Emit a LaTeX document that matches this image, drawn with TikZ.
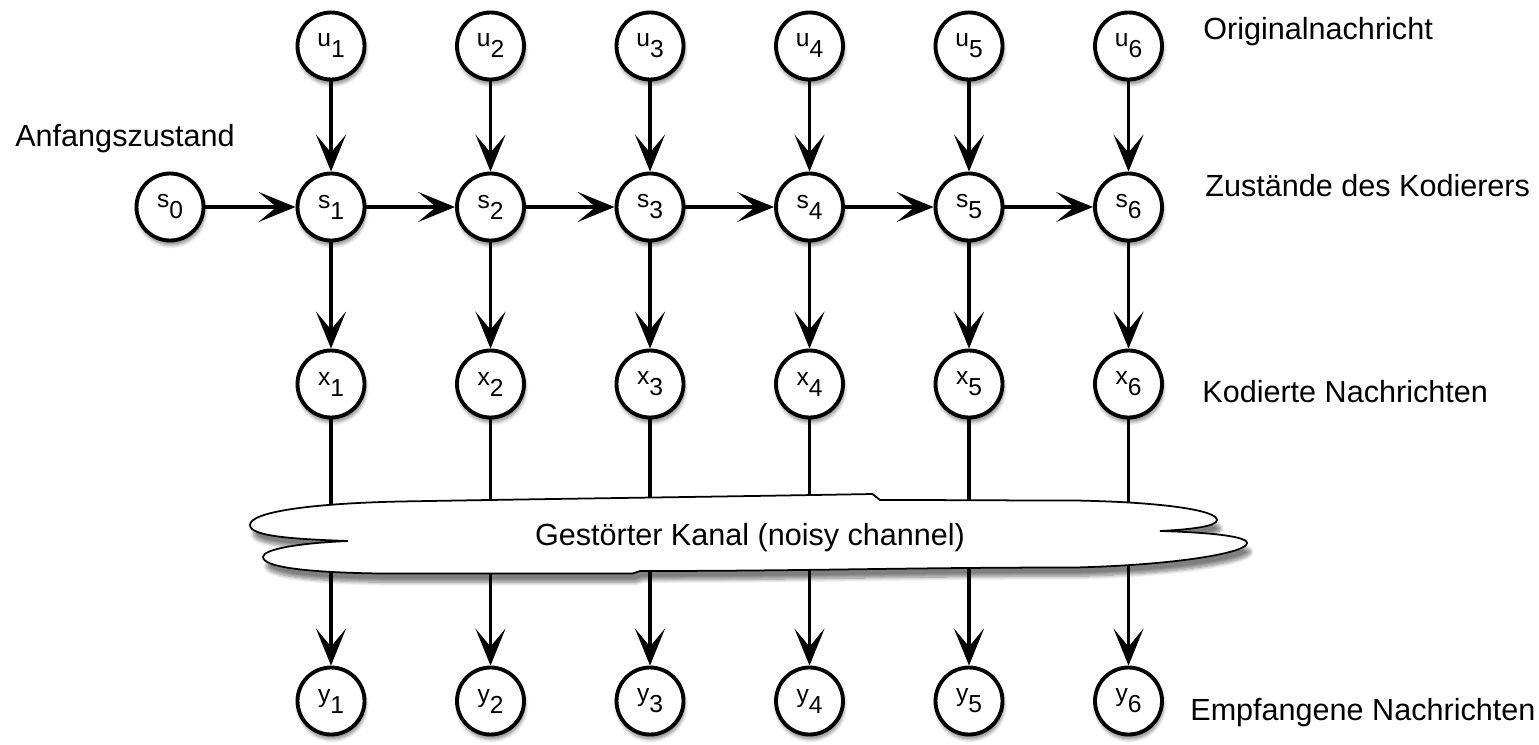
\documentclass[tikz,border=0pt]{standalone}
\usepackage{fontspec}
\setmainfont{Liberation Sans}
\usetikzlibrary{positioning,calc,arrows.meta,shadows.blur}

\newcommand{\sym}[2]{#1\raisebox{-0.22cm}{#2}}

\tikzstyle{line} = [draw, line width=2.2pt, -{Stealth[length=0.74cm,width=0.6cm,inset=0.36cm]}]
\tikzstyle{round} = [circle, draw, line width=2.2pt, fill=white, minimum size=1.34cm, inner sep=0pt, font=\fontsize{14}{16}\selectfont, blur shadow={shadow xshift=0.6pt, shadow yshift=-2.5pt, shadow blur steps=6, shadow opacity=50}]
\tikzstyle{rowtext} = [anchor=base west, inner sep=0pt, font=\fontsize{17.4}{20}\selectfont]
\tikzstyle{cloud_path} = [draw, fill=white, line width=1pt, blur shadow={shadow xshift=2pt, shadow yshift=-5pt, shadow blur steps=8, shadow opacity=50}]

\begin{document}
\begin{tikzpicture}[on grid]

\useasboundingbox (0,0) rectangle (30.78,-14.9);

\node [round] (u1) at (6.62,-0.92) {\sym{u}{1}};
\node [round, right=3.19cm of u1] (u2) {\sym{u}{2}};
\node [round, right=3.19cm of u2] (u3) {\sym{u}{3}};
\node [round, right=3.19cm of u3] (u4) {\sym{u}{4}};
\node [round, right=3.19cm of u4] (u5) {\sym{u}{5}};
\node [round, right=3.19cm of u5] (u6) {\sym{u}{6}};

\node [round, below=3.22cm of u1] (s1) {\sym{s}{1}};
\node [round, below=3.22cm of u2] (s2) {\sym{s}{2}};
\node [round, below=3.22cm of u3] (s3) {\sym{s}{3}};
\node [round, below=3.22cm of u4] (s4) {\sym{s}{4}};
\node [round, below=3.22cm of u5] (s5) {\sym{s}{5}};
\node [round, below=3.22cm of u6] (s6) {\sym{s}{6}};
\node [round, left=3.22cm of s1] (s0) {\sym{s}{0}};

\node [round, below=3.54cm of s1] (x1) {\sym{x}{1}};
\node [round, below=3.54cm of s2] (x2) {\sym{x}{2}};
\node [round, below=3.54cm of s3] (x3) {\sym{x}{3}};
\node [round, below=3.54cm of s4] (x4) {\sym{x}{4}};
\node [round, below=3.54cm of s5] (x5) {\sym{x}{5}};
\node [round, below=3.54cm of s6] (x6) {\sym{x}{6}};

\node [round, below=6.34cm of x1] (y1) {\sym{y}{1}};
\node [round, below=6.34cm of x2] (y2) {\sym{y}{2}};
\node [round, below=6.34cm of x3] (y3) {\sym{y}{3}};
\node [round, below=6.34cm of x4] (y4) {\sym{y}{4}};
\node [round, below=6.34cm of x5] (y5) {\sym{y}{5}};
\node [round, below=6.34cm of x6] (y6) {\sym{y}{6}};

\node [rowtext] (original) at (24.06,-0.80) {Originalnachricht};
\node [rowtext] (anfang) at (0.30,-2.94) {Anfangszustand};
\node [rowtext] (zustaende) at (24.10,-3.94) {Zustände des Kodierers};
\node [rowtext] (kodiert) at (24.04,-8.04) {Kodierte Nachrichten};
\node [rowtext] (empfangen) at (23.80,-14.40) {Empfangene Nachrichten};

\path [line] (u1) -- (s1);
\path [line] (u2) -- (s2);
\path [line] (u3) -- (s3);
\path [line] (u4) -- (s4);
\path [line] (u5) -- (s5);
\path [line] (u6) -- (s6);

\path [line] (s0) -- (s1);
\path [line] (s1) -- (s2);
\path [line] (s2) -- (s3);
\path [line] (s3) -- (s4);
\path [line] (s4) -- (s5);
\path [line] (s5) -- (s6);

\path [line] (s1) -- (x1);
\path [line] (s2) -- (x2);
\path [line] (s3) -- (x3);
\path [line] (s4) -- (x4);
\path [line] (s5) -- (x5);
\path [line] (s6) -- (x6);

\path [line] (x1) -- (y1);
\path [line] (x2) -- (y2);
\path [line] (x3) -- (y3);
\path [line] (x4) -- (y4);
\path [line] (x5) -- (y5);
\path [line] (x6) -- (y6);

% noisy channel cloud over the x-y lines
\path [cloud_path] (6.96,-10.82)
  .. controls (5.8,-10.78) and (5.0,-10.72) .. (5.0,-10.50)
  .. controls (5.0,-10.24) and (6.2,-10.07) .. (8.0,-10.03)
  to[out=1,in=181] (17.45,-9.88)
  -- (17.6,-10.0)
  to[out=0,in=180] (21.5,-10.01)
  .. controls (23.2,-10.04) and (24.34,-10.2) .. (24.34,-10.40)
  .. controls (24.34,-10.53) and (23.8,-10.59) .. (23.2,-10.62)
  .. controls (23.9,-10.64) and (24.94,-10.70) .. (24.94,-10.86)
  .. controls (24.94,-11.06) and (23.5,-11.30) .. (21.5,-11.35)
  to[out=180,in=0] (12.8,-11.42)
  -- (12.65,-11.47)
  to[out=180,in=0] (7.6,-11.47)
  .. controls (6.2,-11.45) and (5.26,-11.35) .. (5.26,-11.14)
  .. controls (5.26,-10.98) and (6.0,-10.86) .. (6.96,-10.82) -- cycle;
\node [anchor=base, inner sep=0pt, font=\fontsize{17.4}{20}\selectfont] (kanal) at (15.0,-10.9) {Gestörter Kanal (noisy channel)};

\end{tikzpicture}
\end{document}
